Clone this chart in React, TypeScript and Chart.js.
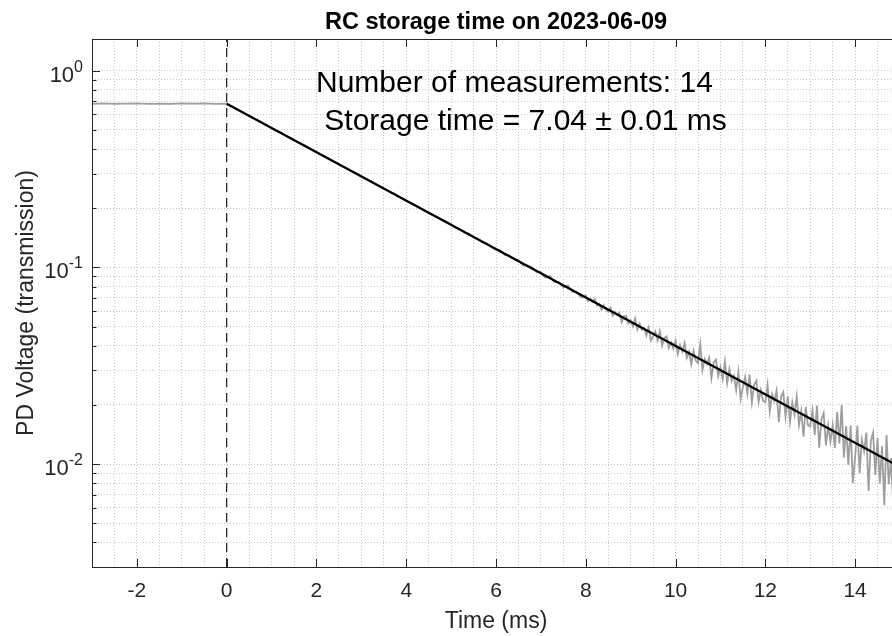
import React, { useEffect, useRef } from "react";
import { Chart, registerables } from "chart.js";

Chart.register(...registerables);

// ---------- axis limits & ticks ----------
const X_MIN = -3;
const X_MAX = 15;
const Y_MIN = 0.003;
const Y_MAX = 1.45;

const X_MAJOR_TICKS = [-2, 0, 2, 4, 6, 8, 10, 12, 14];
const X_MINOR_STEP = 0.5;
const Y_DECADES = [0.01, 0.1, 1];
const Y_DECADE_EXPONENTS = ["-2", "-1", "0"];
const Y_MINOR_MULTIPLIERS = [2, 3, 4, 5, 6, 7, 8, 9];

// ---------- measured transmission (gray trace) ----------
// pre-trigger, t = -3 ... -0.25 ms, every 0.25 ms
const PRE_T0 = -3;
const PRE_STEP = 0.25;
const PRE_V = [0.679, 0.682, 0.678, 0.681, 0.683, 0.679, 0.681, 0.678, 0.682, 0.68, 0.683, 0.679];

// early decay, t = 0 ... 4.75 ms, every 0.25 ms
const EARLY_T0 = 0;
const EARLY_STEP = 0.25;
const EARLY_V = [
  0.68, 0.6352, 0.589, 0.551, 0.5105, 0.4782, 0.4431, 0.4152, 0.3845, 0.3601,
  0.3334, 0.3126, 0.2895, 0.2713, 0.2511, 0.2355, 0.2178, 0.2044, 0.1889, 0.1775,
];

// mid decay, t = 5.0 ... 7.9 ms, every 0.1 ms
const MID_T0 = 5;
const MID_STEP = 0.1;
const MID_V = [
  0.1659, 0.1586, 0.1564, 0.1503, 0.1485, 0.1421, 0.1394, 0.1336, 0.1323, 0.127,
  0.123, 0.1221, 0.1154, 0.1151, 0.1101, 0.1091, 0.1026, 0.1025, 0.1002, 0.0949,
  0.09459, 0.08878, 0.09044, 0.08427, 0.08437, 0.07924, 0.08117, 0.07537, 0.07503, 0.07015,
];

// late (noisy) decay, t = 8.0 ... 15.0 ms, every 0.05 ms
const LATE_T0 = 8;
const LATE_STEP = 0.05;
const LATE_V = [
  0.07208, 0.0673, 0.06952, 0.06684, 0.06906, 0.06393, 0.0651, 0.06102, 0.06429, 0.06091,
  0.05953, 0.06247, 0.05679, 0.05936, 0.05742, 0.05888, 0.05281, 0.05651, 0.05682, 0.05189,
  0.05381, 0.05013, 0.05496, 0.04831, 0.05186, 0.04818, 0.04919, 0.04508, 0.04949, 0.04241,
  0.04461, 0.04715, 0.04249, 0.04729, 0.03993, 0.04382, 0.04456, 0.039, 0.04155, 0.03869,
  0.04238, 0.03635, 0.04033, 0.0373, 0.04127, 0.03474, 0.03722, 0.03219, 0.03766, 0.03364,
  0.03261, 0.04065, 0.03019, 0.03424, 0.03228, 0.03482, 0.02736, 0.0329, 0.03395, 0.02799,
  0.03103, 0.02713, 0.03324, 0.02584, 0.03044, 0.02655, 0.02815, 0.02375, 0.02935, 0.02146,
  0.02456, 0.02772, 0.02287, 0.02853, 0.02068, 0.02534, 0.0265, 0.02065, 0.02381, 0.02096,
  0.02062, 0.02532, 0.01852, 0.02272, 0.02092, 0.02363, 0.01633, 0.02203, 0.02323, 0.01743,
  0.02213, 0.01637, 0.02061, 0.01785, 0.02209, 0.01583, 0.01857, 0.01381, 0.01955, 0.01579,
  0.01553, 0.01881, 0.01408, 0.01986, 0.01213, 0.01691, 0.01818, 0.01246, 0.01573, 0.01301,
  0.01578, 0.01209, 0.01839, 0.0127, 0.02, 0.01081, 0.01561, 0.00992, 0.01572, 0.00803,
  0.01083, 0.01566, 0.00899, 0.01332, 0.01165, 0.01448, 0.00731, 0.01314, 0.01447, 0.0088,
  0.01363, 0.00798, 0.01234, 0.00619, 0.01404, 0.0079, 0.01075, 0.0061, 0.01195, 0.00831,
  0.01066,
];

// ---------- exponential fit (black) & trigger line ----------
const FIT_T = [0, 15];
const FIT_V = [0.68, 0.00966];
const TRIGGER_T = [0, 0];
const TRIGGER_V = [Y_MIN, Y_MAX];

// ---------- texts ----------
const TITLE = "RC storage time on 2023-06-09";
const X_LABEL = "Time (ms)";
const Y_LABEL = "PD Voltage (transmission)";
const NOTE_LINES = ["Number of measurements: 14", " Storage time = 7.04 \u00B1 0.01 ms"];

// ---------- styles ----------
const FONT = '"Liberation Sans", Arial, Helvetica, sans-serif';
const AXIS_COLOR = "#262626";
const GRID_COLOR = "#c6c6c6";
const CANVAS_W = 920;
const CANVAS_H = 636;

function segment(t0: number, step: number, values: number[]) {
  return values.map((v, i) => ({ x: Math.round((t0 + i * step) * 1000) / 1000, y: v }));
}

const GRAY_POINTS = [
  ...segment(PRE_T0, PRE_STEP, PRE_V),
  ...segment(EARLY_T0, EARLY_STEP, EARLY_V),
  ...segment(MID_T0, MID_STEP, MID_V),
  ...segment(LATE_T0, LATE_STEP, LATE_V),
];
const FIT_POINTS = FIT_T.map((t, i) => ({ x: t, y: FIT_V[i] }));
const TRIGGER_POINTS = TRIGGER_T.map((t, i) => ({ x: t, y: TRIGGER_V[i] }));

function xGridValues() {
  const out: number[] = [];
  const n = Math.round((X_MAX - X_MIN) / X_MINOR_STEP);
  for (let i = 0; i <= n; i++) out.push(Math.round((X_MIN + i * X_MINOR_STEP) * 1000) / 1000);
  return out;
}

function yGridValues() {
  const out: { v: number; major: boolean }[] = [];
  const decades = [Y_DECADES[0] / 10, ...Y_DECADES];
  for (const d of decades) {
    if (d >= Y_MIN && d <= Y_MAX) out.push({ v: d, major: true });
    for (const m of Y_MINOR_MULTIPLIERS) {
      const v = parseFloat((m * d).toPrecision(4));
      if (v >= Y_MIN && v <= Y_MAX) out.push({ v, major: false });
    }
  }
  return out.sort((a, b) => a.v - b.v);
}

const decorPlugin = {
  id: "decor",
  afterDraw(chart: any) {
    const { ctx, chartArea: a, scales } = chart;
    const xs = scales.x;
    const ys = scales.y;
    ctx.save();

    // axes box
    ctx.strokeStyle = AXIS_COLOR;
    ctx.lineWidth = 1;
    ctx.strokeRect(Math.round(a.left) + 0.5, Math.round(a.top) + 0.5, Math.round(a.right - a.left), Math.round(a.bottom - a.top));

    // inward tick marks
    ctx.beginPath();
    for (const v of X_MAJOR_TICKS) {
      const px = Math.round(xs.getPixelForValue(v)) + 0.5;
      ctx.moveTo(px, a.bottom);
      ctx.lineTo(px, a.bottom - 8);
      ctx.moveTo(px, a.top);
      ctx.lineTo(px, a.top + 8);
    }
    for (const g of yGridValues()) {
      const py = Math.round(ys.getPixelForValue(g.v)) + 0.5;
      const len = g.major ? 8 : 4.5;
      ctx.moveTo(a.left, py);
      ctx.lineTo(a.left + len, py);
      ctx.moveTo(a.right, py);
      ctx.lineTo(a.right - len, py);
    }
    ctx.stroke();

    // y tick labels 10^n
    ctx.fillStyle = AXIS_COLOR;
    ctx.textAlign = "left";
    ctx.textBaseline = "alphabetic";
    Y_DECADES.forEach((d, i) => {
      const py = ys.getPixelForValue(d);
      const exp = Y_DECADE_EXPONENTS[i];
      ctx.font = `22px ${FONT}`;
      const baseW = ctx.measureText("10").width;
      ctx.font = `16px ${FONT}`;
      const expW = ctx.measureText(exp).width;
      const right = a.left - 9;
      ctx.font = `22px ${FONT}`;
      ctx.fillText("10", right - expW - baseW, py + 11);
      ctx.font = `16px ${FONT}`;
      ctx.fillText(exp, right - expW, py + 1);
    });

    // axis titles
    ctx.font = `23px ${FONT}`;
    ctx.textAlign = "center";
    ctx.textBaseline = "middle";
    ctx.fillText(X_LABEL, (a.left + a.right) / 2, 622);
    ctx.save();
    ctx.translate(27, (a.top + a.bottom) / 2);
    ctx.rotate(-Math.PI / 2);
    ctx.fillText(Y_LABEL, 0, 0);
    ctx.restore();

    // title
    ctx.fillStyle = "#000";
    ctx.font = `bold 23.5px ${FONT}`;
    ctx.textBaseline = "alphabetic";
    ctx.fillText(TITLE, (a.left + a.right) / 2, 29);

    // annotation
    ctx.font = `30px ${FONT}`;
    ctx.textAlign = "left";
    ctx.fillText(NOTE_LINES[0], 316, 92);
    ctx.fillText(NOTE_LINES[1], 316, 130);

    ctx.restore();
  },
};

export default function App() {
  const ref = useRef<HTMLCanvasElement>(null);

  useEffect(() => {
    if (!ref.current) return;
    const chart = new Chart(ref.current, {
      type: "line",
      data: {
        datasets: [
          {
            label: "fit",
            data: FIT_POINTS,
            borderColor: "#000000",
            borderWidth: 2.2,
            pointRadius: 0,
            tension: 0,
            order: 0,
          },
          {
            label: "trigger",
            data: TRIGGER_POINTS,
            borderColor: "#1a1a1a",
            borderWidth: 1.2,
            borderDash: [9, 6],
            pointRadius: 0,
            tension: 0,
            order: 1,
          },
          {
            label: "measurement",
            data: GRAY_POINTS,
            borderColor: "#9e9e9e",
            borderWidth: 1.8,
            borderJoinStyle: "miter",
            pointRadius: 0,
            tension: 0,
            order: 2,
          },
        ],
      },
      options: {
        animation: false,
        responsive: false,
        devicePixelRatio: 1,
        events: [],
        layout: { padding: { left: 0, top: 39, right: CANVAS_W - 900, bottom: 0 } },
        plugins: {
          legend: { display: false },
          title: { display: false },
          tooltip: { enabled: false },
        },
        scales: {
          x: {
            type: "linear",
            min: X_MIN,
            max: X_MAX,
            afterBuildTicks: (axis: any) => {
              axis.ticks = xGridValues().map((v) => ({ value: v }));
            },
            afterFit: (axis: any) => {
              axis.height = CANVAS_H - 567;
            },
            grid: { color: GRID_COLOR, lineWidth: 1, drawTicks: false },
            border: { display: false, dash: [1, 2] },
            ticks: {
              autoSkip: false,
              maxRotation: 0,
              padding: 12,
              color: AXIS_COLOR,
              font: { family: FONT, size: 21 },
              callback: (value: any) => {
                const v = Number(value);
                return X_MAJOR_TICKS.some((t) => Math.abs(t - v) < 1e-6) ? String(v) : "";
              },
            },
          },
          y: {
            type: "logarithmic",
            min: Y_MIN,
            max: Y_MAX,
            afterBuildTicks: (axis: any) => {
              axis.ticks = yGridValues().map((g) => ({ value: g.v, major: g.major }));
            },
            afterFit: (axis: any) => {
              axis.width = 92;
            },
            grid: { color: GRID_COLOR, lineWidth: 1, drawTicks: false },
            border: { display: false, dash: [1, 2] },
            ticks: { display: false },
          },
        },
      },
      plugins: [decorPlugin],
    } as any);
    return () => chart.destroy();
  }, []);

  return (
    <div
      style={{
        position: "fixed",
        left: 0,
        top: 0,
        width: 892,
        height: 636,
        overflow: "hidden",
        background: "#ffffff",
      }}
    >
      <canvas ref={ref} width={CANVAS_W} height={CANVAS_H} style={{ width: CANVAS_W, height: CANVAS_H, display: "block" }} />
    </div>
  );
}
